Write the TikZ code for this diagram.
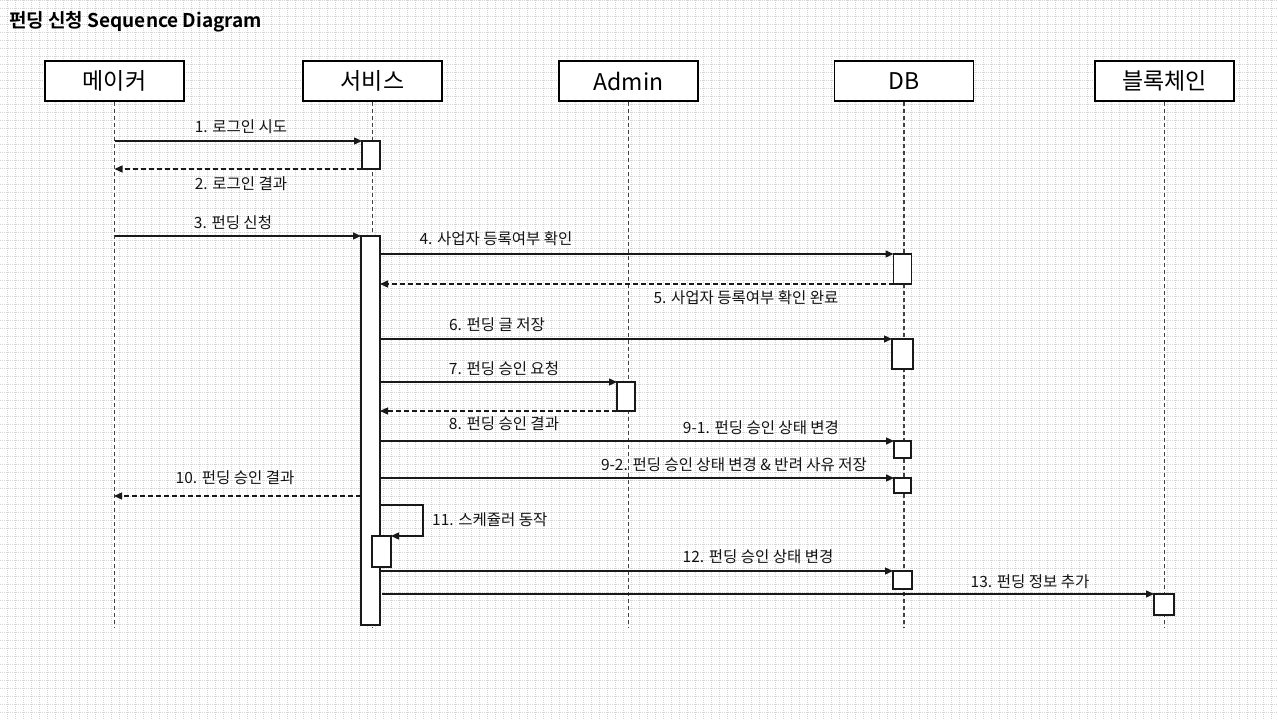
\documentclass[tikz,border=0pt]{standalone}
\usepackage{fontspec}
\setmainfont{Noto Sans CJK KR}[BoldFont={Noto Sans CJK KR Bold}]
\usetikzlibrary{arrows.meta}
\begin{document}
\begin{tikzpicture}[x=1bp,y=-1bp,
  head/.style={draw=black, line width=1.5bp, fill=white, minimum width=139bp, minimum height=40bp, inner sep=0pt, font=\fontsize{23bp}{27bp}\selectfont},
  act/.style={draw=black!90, line width=1.4bp, fill=white, inner sep=0pt, outer sep=0pt},
  life/.style={draw=black!75, line width=1.1bp, dash pattern=on 4bp off 3bp},
  msg/.style={draw=black!90, line width=1.3bp, -{Triangle[length=8bp,width=7bp]}},
  ret/.style={msg, dash pattern=on 5bp off 3bp},
  lbl/.style={font=\fontsize{15.5bp}{18bp}\selectfont, text=black!92, inner sep=0pt},
  gridln/.style={draw=black!17, line width=0.5bp, dash pattern=on 1bp off 1bp}]
\useasboundingbox (0,0) rectangle (1278,720);
\fill[white] (0,0) rectangle (1278,720);
\foreach \gx in {7,15,...,1278} \draw[gridln] (\gx,0) -- (\gx,720);
\foreach \gy in {0,8,...,720} \draw[gridln] (0,\gy) -- (1278,\gy);

\node[anchor=west, inner sep=0pt, font=\bfseries\fontsize{19bp}{22bp}\selectfont] (title) at (9,22) {펀딩 신청 Sequence Diagram};

% participants
\node[head] (mk) at (114.5,81) {메이커};
\node[head] (sv) at (372.5,81) {서비스};
\node[head] (ad) at (628.5,81) {Admin};
\node[head] (db) at (904,81) {DB};
\node[head] (bc) at (1164.5,81) {블록체인};
\coordinate (bottom) at (0,628);

% lifelines
\draw[life] (mk.south) -- (mk.south |- bottom);
\draw[life] (sv.south) -- (sv.south |- bottom);
\draw[life] (ad.south) -- (ad.south |- bottom);
\draw[life] (db.south) -- (db.south |- bottom);
\draw[life] (bc.south) -- (bc.south |- bottom);

% activation boxes
\node[act, minimum width=18bp, minimum height=28bp] (a1) at (371,155) {};
\node[act, minimum width=19bp, minimum height=389bp] (A) at (370.5,430.5) {};
\node[act, minimum width=18bp, minimum height=30bp] (d4) at (902.5,269) {};
\node[act, minimum width=21bp, minimum height=30bp] (d6) at (902.5,354) {};
\node[act, minimum width=18bp, minimum height=29bp] (ad7) at (626,396.5) {};
\node[act, minimum width=17bp, minimum height=17bp] (d91) at (902.5,449.5) {};
\node[act, minimum width=17bp, minimum height=15bp] (d92) at (902.5,485.5) {};
\node[act, minimum width=19bp, minimum height=31bp] (s11) at (381.5,551.5) {};
\node[act, minimum width=19bp, minimum height=18bp] (d12) at (902.5,580) {};
\node[act, minimum width=20bp, minimum height=21bp] (b13) at (1164,604.5) {};

\coordinate (c10) at (114,496);
\coordinate (c11) at (423,505);

% messages
\draw[msg] (mk |- a1.north) -- (a1.north west);
\draw[ret] (a1.south west) -- (mk |- a1.south);
\draw[msg] (mk |- A.north) -- (A.north west);
\draw[msg] (A.east |- d4.north) -- (d4.north west);
\draw[ret] (d4.south west) -- (A.east |- d4.south);
\draw[msg] (A.east |- d6.north) -- (d6.north west);
\draw[msg] (A.east |- ad7.north) -- (ad7.north west);
\draw[ret] (ad7.south west) -- (A.east |- ad7.south);
\draw[msg] (A.east |- d91.north) -- (d91.north west);
\draw[msg] (A.east |- d92.north) -- (d92.north west);
\draw[ret] (A.west |- c10) -- (c10);
\draw[msg] (A.east |- c11) -- (c11) |- (s11.north east);
\draw[msg] (A.east |- d12.north) -- (d12.north west);
\draw[msg] ([xshift=2bp]A.east |- b13.north) -- (b13.north west);

% labels
\node[lbl] (l1) at (241,127) {1. 로그인 시도};
\node[lbl] (l2) at (241,184) {2. 로그인 결과};
\node[lbl] (l3) at (233,223) {3. 펀딩 신청};
\node[lbl] (l4) at (496,239) {4. 사업자 등록여부 확인};
\node[lbl] (l5) at (746,298) {5. 사업자 등록여부 확인 완료};
\node[lbl] (l6) at (497,325) {6. 펀딩 글 저장};
\node[lbl] (l7) at (504,369) {7. 펀딩 승인 요청};
\node[lbl] (l8) at (504,424) {8. 펀딩 승인 결과};
\node[lbl] (l91) at (761,428) {9-1. 펀딩 승인 상태 변경};
\node[lbl] (l92) at (734,465) {9-2. 펀딩 승인 상태 변경 \& 반려 사유 저장};
\node[lbl] (l10) at (235,478) {10. 펀딩 승인 결과};
\node[lbl, anchor=west] (l11) at (432,520) {11. 스케쥴러 동작};
\node[lbl] (l12) at (758,557) {12. 펀딩 승인 상태 변경};
\node[lbl] (l13) at (1030,582) {13. 펀딩 정보 추가};
\end{tikzpicture}
\end{document}
